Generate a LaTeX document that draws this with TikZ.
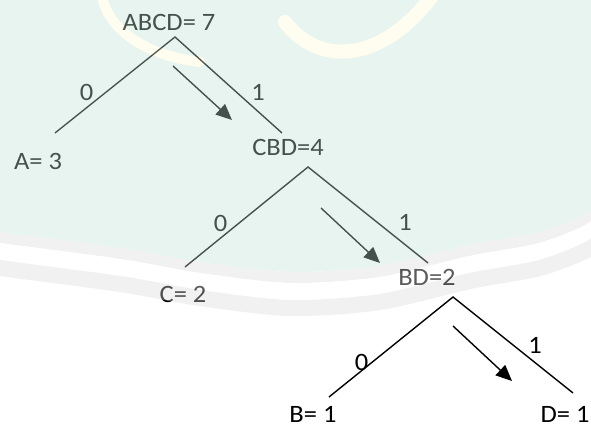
\documentclass[tikz,border=0pt]{standalone}
\usepackage{fontspec}
\setmainfont{Carlito}[FakeStretch=1.06]
\usetikzlibrary{arrows.meta}

\definecolor{ink}{RGB}{0,0,0}
\definecolor{wmtint}{RGB}{194,227,211}
\definecolor{wmgray}{RGB}{218,218,218}
\definecolor{wmgold}{RGB}{254,252,214}

\tikzset{
  lbl/.style={anchor=base, inner sep=0pt, font=\fontsize{25}{29}\selectfont, text=ink},
  bit/.style={lbl},
  edge/.style={draw=ink, line width=1.4pt},
  flow/.style={draw=ink, line width=1.4pt, -{Triangle[length=16pt,width=14pt]}},
}

\begin{document}
\begin{tikzpicture}[x={(1pt,0)}, y={(0,-1pt)}]
\useasboundingbox (0,0) rectangle (591,427);
\fill[white] (0,0) rectangle (591,427);

% ---- tree labels ----
\node[lbl] (abcd) at (169,31)  {ABCD= 7};
\node[lbl] (a)    at (38,170)  {A= 3};
\node[lbl] (cbd)  at (288,156) {CBD=4};
\node[lbl] (c)    at (183,302) {C= 2};
\node[lbl] (bd)   at (427,286) {BD=2};
\node[lbl] (b)    at (313,422) {B= 1};
\node[lbl] (d)    at (565,422) {D= 1};

% ---- branch end points ----
\coordinate (abcdTip) at (175,37);
\coordinate (aEnd)    at (55,133);
\coordinate (cbdEnd)  at (282,133);
\coordinate (cbdTip)  at (308,167);
\coordinate (cEnd)    at (185,267);
\coordinate (bdEnd)   at (428,263);
\coordinate (bdTip)   at (453,297);
\coordinate (bEnd)    at (329,397);
\coordinate (dEnd)    at (573,393);

\draw[edge] (aEnd) -- (abcdTip) -- (cbdEnd);
\draw[edge] (cEnd) -- (cbdTip) -- (bdEnd);
\draw[edge] (bEnd) -- (bdTip) -- (dEnd);

% ---- branch bits ----
\node[bit] (z1) at (86.5,101) {0};
\node[bit] (o1) at (258,101)  {1};
\node[bit] (z2) at (220.5,232) {0};
\node[bit] (o2) at (405,231)  {1};
\node[bit] (z3) at (361.5,370) {0};
\node[bit] (o3) at (535,353)  {1};

% ---- traversal arrows ----
\coordinate (f1s) at (173,66);  \coordinate (f1e) at (232,120);
\coordinate (f2s) at (321,208); \coordinate (f2e) at (380,263);
\coordinate (f3s) at (453,326); \coordinate (f3e) at (512,381);
\draw[flow] (f1s) -- (f1e);
\draw[flow] (f2s) -- (f2e);
\draw[flow] (f3s) -- (f3e);

% ---- faint library stamp laid over the upper half ----
\begin{scope}[transparency group, opacity=0.36]
  \clip (0,0) rectangle (591,427);
  \fill[wmtint] (-10,-10) -- plot[smooth] coordinates {(-10,229) (0,232) (120,248) (200,262) (290,272) (380,266) (470,245) (540,232) (591,212) (605,195)} -- (605,-10) -- cycle;
  \draw[wmgold, line width=14pt, line cap=round] (285,22) .. controls (320,68) and (385,62) .. (435,-8);
  \draw[wmgold, line width=10pt, line cap=round] (102,-5) .. controls (106,25) and (140,55) .. (200,62);
  \draw[wmgray, line width=11pt, yshift=-5.5pt] plot[smooth] coordinates {(-10,229) (0,232) (120,248) (200,262) (290,272) (380,266) (470,245) (540,232) (591,212) (605,195)};
  \draw[white, line width=17pt, yshift=-19.5pt] plot[smooth] coordinates {(-10,229) (0,232) (120,248) (200,262) (290,272) (380,266) (470,245) (540,232) (591,212) (605,195)};
  \draw[wmgray, line width=16pt, yshift=-36pt] plot[smooth] coordinates {(-10,229) (0,232) (120,248) (200,262) (290,272) (380,266) (470,245) (540,232) (591,212) (605,195)};
\end{scope}
\end{tikzpicture}
\end{document}
